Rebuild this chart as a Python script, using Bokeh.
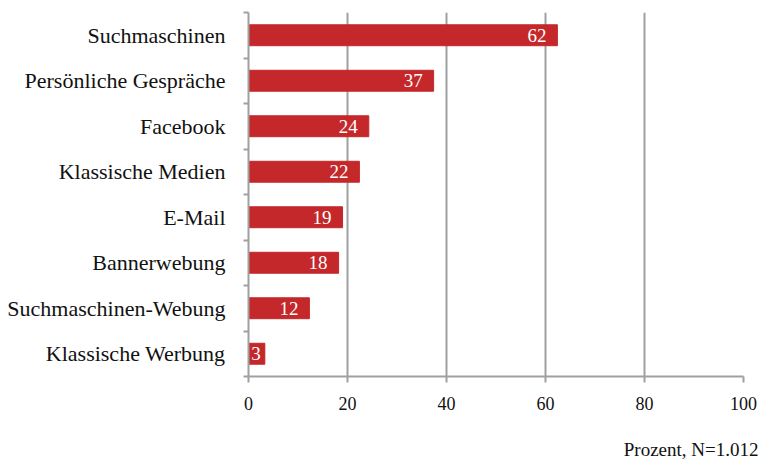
from bokeh.plotting import figure
from bokeh.models import ColumnDataSource, FixedTicker, Range1d, Title
from bokeh.core.properties import value
from bokeh.embed import file_html
from bokeh.resources import INLINE

categories = ["Suchmaschinen", "Persönliche Gespräche", "Facebook", "Klassische Medien",
              "E-Mail", "Bannerwebung", "Suchmaschinen-Webung", "Klassische Werbung"]
values = [62.4, 37.4, 24.3, 22.4, 19.0, 18.2, 12.3, 3.3]
x_ticks = [0, 20, 40, 60, 80, 100]
footnote = "Prozent, N=1.012"

FONT = "Liberation Serif"
GRID = "#a0a0a0"
BAR = "#c4282a"

n = len(categories)
centers = [n - i - 0.5 for i in range(n)]
bounds = list(range(n + 1))
labels = [str(int(round(v))) for v in values]
offsets = [-11 if v > 6 else -4 for v in values]

src = ColumnDataSource(dict(y=centers, v=values, lab=labels, off=offsets))

p = figure(width=762, height=460, output_backend="svg", toolbar_location=None,
           x_range=Range1d(0, 100), y_range=Range1d(0, n),
           min_border_left=248, min_border_right=19, min_border_top=12, min_border_bottom=84)
p.outline_line_color = None
p.background_fill_color = "white"
p.border_fill_color = "white"

p.hbar(y="y", left=0, right="v", height=0.46, color=BAR, source=src)
p.text(x="v", y="y", text="lab", source=src, x_offset="off", text_align="right",
       text_baseline="middle", text_color="white", text_font=value(FONT),
       text_font_size="19px")

# x axis
xa = p.xaxis[0]
xa.ticker = FixedTicker(ticks=x_ticks, minor_ticks=[])
xa.axis_line_color = GRID
xa.axis_line_width = 2
xa.major_tick_line_color = GRID
xa.major_tick_line_width = 2
xa.major_tick_out = 6
xa.major_tick_in = 0
xa.minor_tick_line_color = None
xa.major_label_standoff = 14
xa.major_label_text_font = FONT
xa.major_label_text_font_size = "18px"
xa.major_label_text_color = "#111111"
# invisible spacer label pushes the footnote toward the bottom edge
xa.axis_label = " "
xa.axis_label_text_font_size = "1px"
xa.axis_label_standoff = 20

# y axis
ya = p.yaxis[0]
ya.ticker = FixedTicker(ticks=centers, minor_ticks=bounds)
ya.major_label_overrides = {c: name for c, name in zip(centers, categories)}
ya.axis_line_color = GRID
ya.axis_line_width = 2
ya.major_tick_line_color = None
ya.major_tick_out = 0
ya.major_tick_in = 0
ya.minor_tick_line_color = GRID
ya.minor_tick_line_width = 2
ya.minor_tick_out = 5
ya.minor_tick_in = 0
ya.major_label_standoff = 18
ya.major_label_text_font = FONT
ya.major_label_text_font_size = "22px"
ya.major_label_text_color = "#111111"

p.xgrid.ticker = FixedTicker(ticks=x_ticks, minor_ticks=[])
p.xgrid.grid_line_color = GRID
p.xgrid.grid_line_width = 2
p.ygrid.grid_line_color = None

t = Title(text=footnote, align="right", vertical_align="bottom", text_font=FONT,
          text_font_size="19px", text_font_style="normal", text_color="#111111",
          standoff=0, offset=-15)
p.add_layout(t, "below")

open("out.html", "w").write(file_html(p, INLINE))
